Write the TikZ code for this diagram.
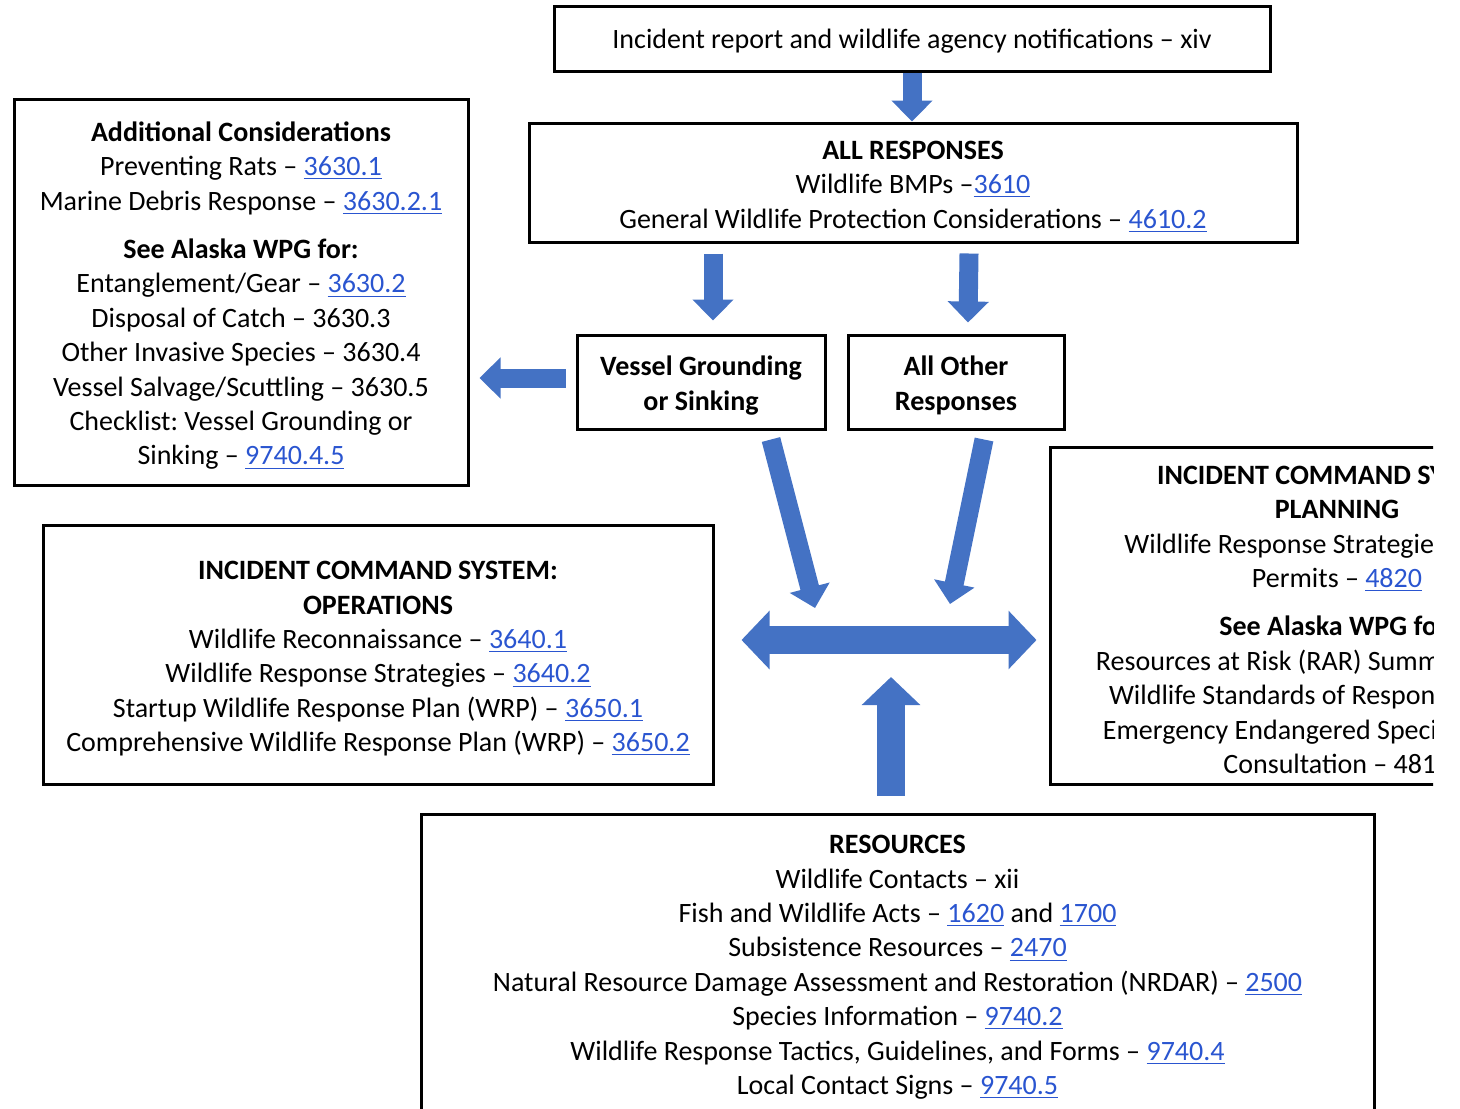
\documentclass[tikz,border=0pt]{standalone}
\usepackage{fontspec}
\setmainfont{Carlito}
\usetikzlibrary{arrows.meta,positioning}

\definecolor{arrowblue}{HTML}{4472C4}
\definecolor{linkblue}{HTML}{2A55D0}
\newcommand{\lnk}[1]{\textcolor{linkblue}{\underline{#1}}}
\newcommand{\boxhead}[1]{\rule{0pt}{13.5pt}\textbf{#1}}
\frenchspacing

\tikzset{hubtip/.tip={Triangle[length=14pt,width=28.5pt]}}

\begin{document}
\begin{tikzpicture}[x=0.5pt,y=-0.5pt,font=\fontsize{14}{17.2}\selectfont,
  box/.style={draw, line width=1.5pt, align=center, inner sep=0pt},
  headbox/.style={box, font=\fontsize{14}{17.6}\selectfont\bfseries},
  flow/.style={draw=arrowblue, line width=9.5pt, -{Triangle[length=10.5pt,width=20pt]}},
  hubflow/.style={draw=arrowblue, line width=14pt, -hubtip}
]

\useasboundingbox (0,0) rectangle (1460,1108);

% top of the chart
\node[box, execute at begin node={\rule{0pt}{12.8pt}}, minimum width=358pt, minimum height=32.5pt] (report) at (912,38.5) {Incident report and wildlife agency notifications – xiv};

\node[box, minimum width=384pt, minimum height=59.5pt] (allresp) at (913,182.5) {\boxhead{ALL RESPONSES}\\
  Wildlife BMPs –\lnk{3610}\\
  General Wildlife Protection Considerations – \lnk{4610.2}};

% the two kinds of response
\node[headbox, minimum width=124pt, minimum height=47pt] (vessel) at (701,382) {\boxhead{Vessel Grounding}\\or Sinking};
\node[headbox, minimum width=108pt, minimum height=47pt, right=10pt of vessel] (other) {\boxhead{All Other}\\Responses};

\node[box, minimum width=227pt, minimum height=193pt] (addcons) at (241,292) {\boxhead{Additional Considerations}\\
  Preventing Rats – \lnk{3630.1}\\
  Marine Debris Response – \lnk{3630.2.1}\\[7pt]
  \textbf{See Alaska WPG for:}\\
  Entanglement/Gear – \lnk{3630.2}\\
  Disposal of Catch – 3630.3\\
  Other Invasive Species – 3630.4\\
  Vessel Salvage/Scuttling – 3630.5\\
  Checklist: Vessel Grounding or\\
  Sinking – \lnk{9740.4.5}};

% ics sections
\node[box, minimum width=335pt, minimum height=129.5pt] (icsops) at (378,654.5) {\boxhead{INCIDENT COMMAND SYSTEM:}\\
  \textbf{OPERATIONS}\\
  Wildlife Reconnaissance – \lnk{3640.1}\\
  Wildlife Response Strategies – \lnk{3640.2}\\
  Startup Wildlife Response Plan (WRP) – \lnk{3650.1}\\
  Comprehensive Wildlife Response Plan (WRP) – \lnk{3650.2}};

\begin{scope}
\clip (1030,430) rectangle (1433,800);
\node[box, minimum width=287pt, minimum height=168.5pt] (icsplan) at (1337,615.5) {\boxhead{INCIDENT COMMAND SYSTEM:}\\
  \textbf{PLANNING}\\
  Wildlife Response Strategies – 4810.1\\
  Permits – \lnk{4820}\\[7pt]
  \textbf{See Alaska WPG for:}\\
  Resources at Risk (RAR) Summaries – 4810\\
  Wildlife Standards of Response – 4830.1\\
  Emergency Endangered Species Act (ESA)\\
  Consultation – 4812};
\end{scope}

\node[box, minimum width=476.5pt, minimum height=149pt] (resources) at (897.5,963) {\boxhead{RESOURCES}\\
  Wildlife Contacts – xii\\
  Fish and Wildlife Acts – \lnk{1620} and \lnk{1700}\\
  Subsistence Resources – \lnk{2470}\\
  Natural Resource Damage Assessment and Restoration (NRDAR) – \lnk{2500}\\
  Species Information – \lnk{9740.2}\\
  Wildlife Response Tactics, Guidelines, and Forms – \lnk{9740.4}\\
  Local Contact Signs – \lnk{9740.5}};

\coordinate (hub) at (891,640);

% arrows down
\draw[flow] (report.south) -- (report.south |- allresp.north);
\draw[flow] ([xshift=-100pt,yshift=-5pt]allresp.south) -- ([xshift=6pt,yshift=6.5pt]vessel.north);
\draw[flow] ([xshift=28pt,yshift=-5pt]allresp.south) -- ([xshift=6pt,yshift=5.5pt]other.north);
\draw[flow, shorten <=5pt, shorten >=5pt, transform canvas={yshift=2pt}] (vessel.west) -- (vessel.west -| addcons.east);

% into the hub
\draw[flow] ([xshift=35pt,yshift=-4.5pt]vessel.south) -- ([xshift=-38pt,yshift=16pt]hub);
\draw[flow] ([xshift=14pt,yshift=-4.5pt]other.south) -- ([xshift=29.5pt,yshift=18pt]hub);
\draw[hubflow, hubtip-hubtip, shorten <=13.5pt, shorten >=6pt] (icsops.east |- hub) -- (icsplan.west |- hub);
\draw[hubflow, shorten <=8.5pt, shorten >=18.5pt] (resources.north -| hub) -- (hub);

\end{tikzpicture}
\end{document}
